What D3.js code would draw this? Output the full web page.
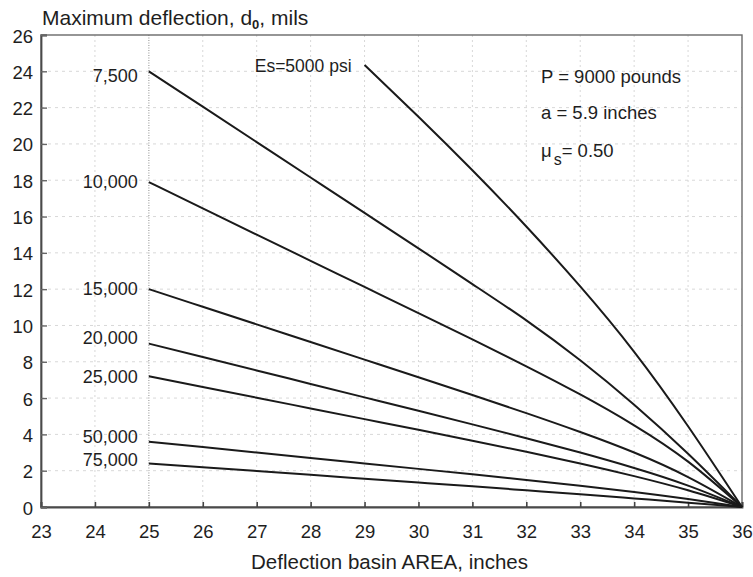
<!DOCTYPE html>
<html>
<head>
<meta charset="utf-8">
<script src="https://cdn.jsdelivr.net/npm/d3@7/dist/d3.min.js"></script>
<style>
  html, body { margin: 0; padding: 0; background: #fff; }
  svg { display: block; }
  text { font-family: "Liberation Sans", Arial, Helvetica, sans-serif; fill: #1e1e1e; }
</style>
</head>
<body>
<svg id="chart" width="753" height="577"></svg>
<script>
// ---- data ----
const xTicks = [23, 24, 25, 26, 27, 28, 29, 30, 31, 32, 33, 34, 35, 36];
const yTicks = [0, 2, 4, 6, 8, 10, 12, 14, 16, 18, 20, 22, 24, 26];

const areaMain = [25, 26, 27, 28, 29, 30, 31, 32, 33, 34, 35, 36];
const area5000 = [29, 30, 31, 32, 33, 34, 35, 36];

const d5000  = [24.35, 21.5, 18.55, 15.45, 12.15, 8.55, 4.45, 0];
const d7500  = [24.0, 22.05, 20.1, 18.15, 16.2, 14.25, 12.28, 10.28, 8.08, 5.63, 2.93, 0];
const d10000 = [17.9, 16.45, 15.0, 13.56, 12.12, 10.68, 9.23, 7.75, 6.2, 4.5, 2.5, 0];
const d15000 = [12.0, 11.03, 10.06, 9.09, 8.12, 7.15, 6.17, 5.17, 4.13, 3.0, 1.65, 0];
const d20000 = [9.0, 8.26, 7.52, 6.78, 6.04, 5.3, 4.55, 3.79, 3.0, 2.15, 1.18, 0];
const d25000 = [7.2, 6.61, 6.02, 5.43, 4.84, 4.25, 3.65, 3.04, 2.4, 1.7, 0.92, 0];
const d50000 = [3.6, 3.3, 3.0, 2.7, 2.4, 2.1, 1.8, 1.49, 1.17, 0.83, 0.44, 0];
const d75000 = [2.4, 2.19, 1.98, 1.77, 1.56, 1.35, 1.14, 0.92, 0.7, 0.47, 0.24, 0];

const mainLabels = ["7,500", "10,000", "15,000", "20,000", "25,000", "50,000", "75,000"];
const mainSeries = [d7500, d10000, d15000, d20000, d25000, d50000, d75000];
const label5000 = "Es=5000 psi";

const xTitle = "Deflection basin AREA, inches";
const notes = ["P = 9000 pounds", "a = 5.9 inches"];

// ---- layout ----
const svg = d3.select("#chart");
const pL = 41, pR = 742, pT = 35, pB = 507;
const x = d3.scaleLinear().domain([23, 36]).range([pL, pR]);
const y = d3.scaleLinear().domain([0, 26]).range([pB, pT]);
const labelDy = [11, 6, 6, 0, 7, 1.5, 3];

// grid
const grid = svg.append("g");
grid.selectAll("line.vx").data(xTicks.slice(1, -1)).join("line")
  .attr("x1", d => x(d)).attr("x2", d => x(d))
  .attr("y1", pT).attr("y2", pB)
  .attr("stroke", d => d === 25 ? "#a8a8a8" : "#d8d8d8")
  .attr("stroke-width", d => d === 25 ? 1.3 : 1)
  .attr("stroke-dasharray", d => d === 25 ? "1,1.5" : "2,3");
grid.selectAll("line.hy").data(yTicks.slice(1, -1)).join("line")
  .attr("x1", pL).attr("x2", pR)
  .attr("y1", d => y(d)).attr("y2", d => y(d))
  .attr("stroke", "#d8d8d8").attr("stroke-width", 1)
  .attr("stroke-dasharray", "3,4");

// frame
svg.append("rect").attr("x", pL).attr("y", pT)
  .attr("width", pR - pL).attr("height", pB - pT)
  .attr("fill", "none").attr("stroke", "#6a6a6a").attr("stroke-width", 1.4);

// axes
const xAxis = d3.axisBottom(x).tickValues(xTicks).tickFormat(d3.format("d"))
  .tickSize(-5).tickPadding(18);
const gx = svg.append("g").attr("transform", `translate(0,${pB})`).call(xAxis);
gx.select(".domain").attr("stroke", "#4a4a4a").attr("stroke-width", 1.8);
gx.selectAll(".tick line").attr("stroke", "#444").attr("stroke-width", 1.6);
gx.selectAll(".tick text").style("font-size", "18.5px").attr("fill", "#1e1e1e")
  .style("font-family", "'Liberation Sans', Arial, sans-serif");

const yAxis = d3.axisLeft(y).tickValues(yTicks).tickFormat(d3.format("d"))
  .tickSize(-6).tickPadding(8);
const gy = svg.append("g").attr("transform", `translate(${pL},0)`).call(yAxis);
gy.select(".domain").attr("stroke", "#4a4a4a").attr("stroke-width", 1.8);
gy.selectAll(".tick line").attr("stroke", "#666").attr("stroke-width", 1.4);
gy.selectAll(".tick text").style("font-size", "18.5px").attr("fill", "#1e1e1e")
  .style("font-family", "'Liberation Sans', Arial, sans-serif")
  .attr("dy", "0.38em");

// curves
const line = d3.line().x(d => x(d[0])).y(d => y(d[1])).curve(d3.curveNatural);
const curves = svg.append("g");
mainSeries.forEach(s => {
  curves.append("path").datum(areaMain.map((a, i) => [a, s[i]]))
    .attr("d", line).attr("fill", "none")
    .attr("stroke", "#1a1a1a").attr("stroke-width", 2);
});
curves.append("path").datum(area5000.map((a, i) => [a, d5000[i]]))
  .attr("d", line).attr("fill", "none")
  .attr("stroke", "#1a1a1a").attr("stroke-width", 2);

// curve labels
mainLabels.forEach((t, i) => {
  svg.append("text").attr("x", x(25) - 11).attr("y", y(mainSeries[i][0]) + labelDy[i])
    .attr("text-anchor", "end").style("font-size", "18px").text(t);
});
svg.append("text").attr("x", x(29) - 13).attr("y", y(d5000[0]) + 7)
  .attr("text-anchor", "end").style("font-size", "17.5px").text(label5000);

// notes
svg.append("text").attr("x", 541).attr("y", 83).style("font-size", "18.5px").text(notes[0]);
svg.append("text").attr("x", 541).attr("y", 118.5).style("font-size", "18.5px").text(notes[1]);
const mu = svg.append("text").attr("x", 541).attr("y", 156.5).style("font-size", "18.5px");
mu.append("tspan").text("μ");
mu.append("tspan").attr("dy", 8).attr("dx", 2).style("font-size", "16px").text("s");
mu.append("tspan").attr("dy", -8).text("= 0.50");

// titles
const yt = svg.append("text").attr("x", 42).attr("y", 25).style("font-size", "21px");
yt.append("tspan").text("Maximum deflection, d");
yt.append("tspan").attr("dy", 4).style("font-size", "13px").style("font-weight", "bold").text("0");
yt.append("tspan").attr("dy", -4).text(", mils");

svg.append("text").attr("x", (x(23) + x(36)) / 2 - 2).attr("y", 569)
  .attr("text-anchor", "middle").style("font-size", "20.5px").text(xTitle);
</script>
</body>
</html>
